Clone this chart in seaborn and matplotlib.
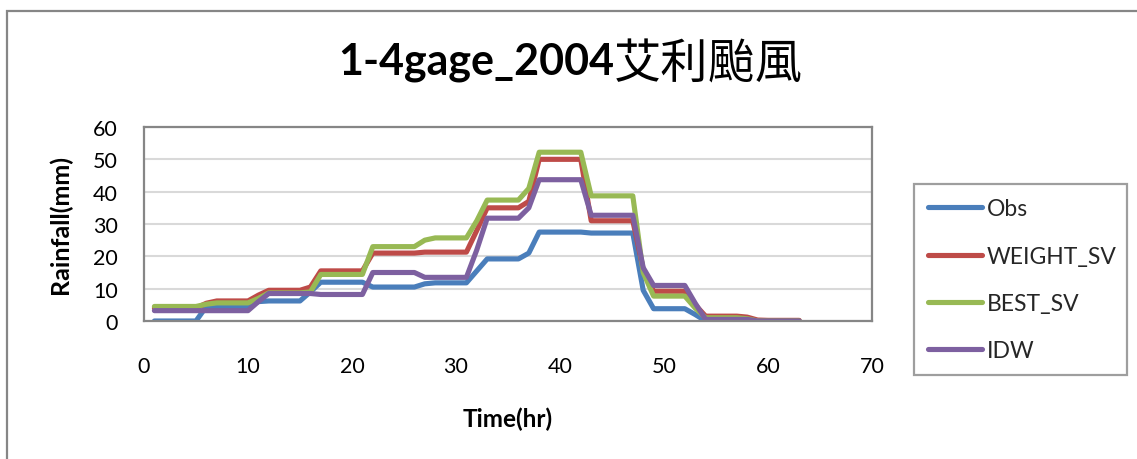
import numpy as np
import pandas as pd
import matplotlib
matplotlib.use("Agg")
import matplotlib.pyplot as plt
from matplotlib.patches import Rectangle
import seaborn as sns

# Hourly rainfall series, hours 1..63
hours = list(range(1, 64))

obs = [0, 0, 0, 0, 0, 4.5, 4.5, 4.5, 4.5, 4.5,
       6, 6.2, 6.2, 6.2, 6.2, 9, 12, 12, 12, 12,
       12, 10.5, 10.5, 10.5, 10.5, 10.5, 11.5, 11.8, 11.8, 11.8,
       11.8, 15.5, 19.2, 19.2, 19.2, 19.2, 21, 27.5, 27.5, 27.5,
       27.5, 27.5, 27.2, 27.2, 27.2, 27.2, 27.2, 9.5, 3.8, 3.8,
       3.8, 3.8, 2, 0, 0, 0, 0, 0, 0, 0,
       0, 0, 0]

weight_sv = [4, 4, 4, 4, 4, 5.5, 6.2, 6.2, 6.2, 6.2,
             8, 9.5, 9.5, 9.5, 9.5, 10.5, 15.5, 15.5, 15.5, 15.5,
             15.5, 21, 21, 21, 21, 21, 21.3, 21.3, 21.3, 21.3,
             21.3, 28, 35, 35, 35, 35, 37, 50, 50, 50,
             50, 50, 31, 31, 31, 31, 31, 16, 9.2, 9.2,
             9.2, 9.2, 5, 1.5, 1.5, 1.5, 1.5, 1.2, 0.3, 0.2,
             0.2, 0.2, 0.2]

best_sv = [4.5, 4.5, 4.5, 4.5, 4.5, 5.2, 5.6, 5.6, 5.6, 5.6,
           7, 8.7, 8.7, 8.7, 8.7, 9, 14.4, 14.4, 14.4, 14.4,
           14.4, 23, 23, 23, 23, 23, 25, 25.7, 25.7, 25.7,
           25.7, 31, 37.4, 37.4, 37.4, 37.4, 41, 52.2, 52.2, 52.2,
           52.2, 52.2, 38.7, 38.7, 38.7, 38.7, 38.7, 15, 7.7, 7.7,
           7.7, 7.7, 4, 1, 1, 1, 1, 0.7, 0, 0,
           0, 0, 0]

idw = [3.2, 3.2, 3.2, 3.2, 3.2, 3.2, 3.2, 3.2, 3.2, 3.2,
       6, 8.5, 8.5, 8.5, 8.5, 8.5, 8.2, 8.2, 8.2, 8.2,
       8.2, 15, 15, 15, 15, 15, 13.5, 13.5, 13.5, 13.5,
       13.5, 22, 31.8, 31.8, 31.8, 31.8, 35, 43.7, 43.7, 43.7,
       43.7, 43.7, 32.7, 32.7, 32.7, 32.7, 32.7, 16.5, 11, 11,
       11, 11, 5.5, 0.5, 0.5, 0.5, 0.5, 0.5, 0, 0,
       0, 0, 0]

series_names = ["Obs", "WEIGHT_SV", "BEST_SV", "IDW"]
colors = ["#4a7ebb", "#be4b48", "#98b954", "#7d60a0"]

df = pd.DataFrame({
    "Time(hr)": hours * 4,
    "Rainfall(mm)": obs + weight_sv + best_sv + idw,
    "series": sum([[n] * len(hours) for n in series_names], []),
})

sns.set_theme(style="white")
plt.rcParams["font.family"] = ["Lato", "Noto Sans CJK TC", "DejaVu Sans"]

W, H = 1137, 460
fig = plt.figure(figsize=(W / 100, H / 100), dpi=100)
fig.patch.set_facecolor("white")

# outer chart-area frame (runs off the right and bottom edges)
fig.patches.append(Rectangle((7 / W, -0.1), 1.2, (H - 12) / H + 0.1,
                             transform=fig.transFigure, fill=False,
                             edgecolor="#868686", linewidth=1.6, zorder=0))

ax = fig.add_axes([144 / W, (H - 322) / H, (872 - 144) / W, (322 - 128) / H])

sns.lineplot(data=df, x="Time(hr)", y="Rainfall(mm)", hue="series",
             hue_order=series_names, palette=colors, linewidth=3.7,
             ax=ax, legend=False, solid_capstyle="round", solid_joinstyle="round")

ax.set_xlim(0, 70)
ax.set_ylim(0, 60)
ax.set_xticks(range(0, 71, 10))
ax.set_yticks(range(0, 61, 10))
ax.yaxis.grid(True, color="#d9d9d9", linewidth=1.5)
ax.xaxis.grid(False)
ax.set_axisbelow(True)
for s in ax.spines.values():
    s.set_color("#868686")
    s.set_linewidth(1.6)
ax.tick_params(axis="both", length=0, labelsize=15.5, colors="black")
ax.tick_params(axis="y", pad=19)
ax.tick_params(axis="x", pad=25)

ax.set_xlabel("Time(hr)", fontsize=17.5, fontweight="bold", color="black")
ax.set_ylabel("Rainfall(mm)", fontsize=18, fontweight="bold", color="black")
ax.xaxis.set_label_coords(0.5, -0.44)
ax.yaxis.set_label_coords(-0.099, 0.5)

# title: bold Latin part followed by the typhoon name
base_y = 1 - 74 / H
fig.text(614 / W, base_y, "1-4gage_2004", fontsize=31, fontweight="bold",
         ha="right", va="baseline", color="black")
fig.text(614 / W, base_y - 4 / H, "艾利颱風", fontsize=34, fontweight="normal",
         family=["Noto Sans CJK TC"], ha="left", va="baseline", color="black")

handles = [plt.Line2D([], [], color=c, linewidth=3.7, solid_capstyle="round")
           for c in colors]
leg = fig.legend(handles, series_names, loc="upper left", mode="expand",
                 bbox_to_anchor=(914 / W, 1 - 378 / H, 213 / W, 193 / H),
                 fontsize=16.5, frameon=True, fancybox=False,
                 edgecolor="#868686", handlelength=2.35, handletextpad=0.22,
                 labelspacing=1.15, borderpad=0.62, borderaxespad=0)
leg.get_frame().set_linewidth(1.6)

fig.savefig("out.png", dpi=100, facecolor="white")
